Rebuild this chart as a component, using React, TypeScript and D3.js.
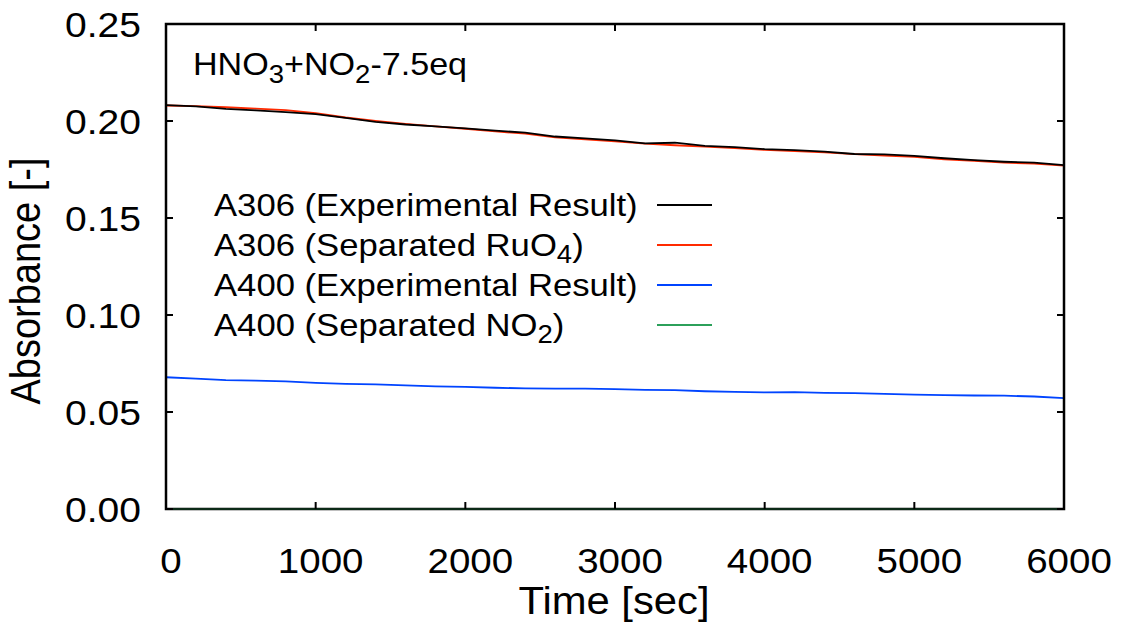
import React from 'react';
import * as d3 from 'd3';

const times = [0, 200, 400, 600, 800, 1000, 1200, 1400, 1600, 1800, 2000, 2200, 2400, 2600, 2800, 3000, 3200, 3400, 3600, 3800, 4000, 4200, 4400, 4600, 4800, 5000, 5200, 5400, 5600, 5800, 6000];

const a306Experimental = [0.2082, 0.2075, 0.2062, 0.2055, 0.2046, 0.2035, 0.2016, 0.1996, 0.1982, 0.1972, 0.1962, 0.1950, 0.1940, 0.1920, 0.1910, 0.1900, 0.1885, 0.1888, 0.1872, 0.1865, 0.1855, 0.1850, 0.1842, 0.1830, 0.1828, 0.1820, 0.1808, 0.1798, 0.1790, 0.1785, 0.1773];
const a306SeparatedRuO4 = [0.2080, 0.2077, 0.2071, 0.2064, 0.2056, 0.2040, 0.2018, 0.2000, 0.1985, 0.1972, 0.1960, 0.1946, 0.1935, 0.1916, 0.1905, 0.1895, 0.1883, 0.1875, 0.1868, 0.1860, 0.1851, 0.1845, 0.1838, 0.1829, 0.1822, 0.1815, 0.1802, 0.1795, 0.1785, 0.1780, 0.1770];
const a400Experimental = [0.0679, 0.0672, 0.0664, 0.0662, 0.0658, 0.0650, 0.0645, 0.0642, 0.0637, 0.0632, 0.0630, 0.0625, 0.0622, 0.0621, 0.0620, 0.0618, 0.0614, 0.0613, 0.0607, 0.0604, 0.0601, 0.0602, 0.0599, 0.0597, 0.0593, 0.0590, 0.0587, 0.0585, 0.0584, 0.0580, 0.0572];
const a400SeparatedNO2 = [0, 0, 0, 0, 0, 0, 0, 0, 0, 0, 0, 0, 0, 0, 0, 0, 0, 0, 0, 0, 0, 0, 0, 0, 0, 0, 0, 0, 0, 0, 0];

const xTicks = [0, 1000, 2000, 3000, 4000, 5000, 6000];
const yTicks = [0, 0.05, 0.1, 0.15, 0.2, 0.25];

const seriesNames = ['A306 (Experimental Result)', 'A306 (Separated RuO4)', 'A400 (Experimental Result)', 'A400 (Separated NO2)'];
const seriesColors = ['#000000', '#ff2a00', '#0044ff', '#2ca05a'];
const seriesValues = [a306Experimental, a306SeparatedRuO4, a400Experimental, a400SeparatedNO2];

const W = 1125, H = 633;
const L = 166, R = 1064, T = 24, B = 509;
const FONT = '"Liberation Sans", Arial, sans-serif';
const SX = 1.1;

function Label({ x, y, anchor = 'start', size, children }: any) {
  return (
    <text transform={`translate(${x},${y}) scale(${SX},1)`} textAnchor={anchor} fontSize={size} fontFamily={FONT} fill="#000">
      {children}
    </text>
  );
}

export default function App() {
  const x = d3.scaleLinear().domain([0, 6000]).range([L, R]);
  const y = d3.scaleLinear().domain([0, 0.25]).range([B, T]);
  const line = d3.line<number>().x((_, i) => x(times[i])).y((d) => y(d));
  const fmt = d3.format('.2f');
  const legendRows = [205, 245, 285, 325];

  const legendLabel = (i: number) => {
    if (i === 1) return (<>A306 (Separated RuO<tspan dy={7} fontSize={25}>4</tspan><tspan dy={-7}>)</tspan></>);
    if (i === 3) return (<>A400 (Separated NO<tspan dy={7} fontSize={25}>2</tspan><tspan dy={-7}>)</tspan></>);
    return seriesNames[i];
  };

  return (
    <svg width={W} height={H} style={{ position: 'absolute', left: 0, top: 0, background: '#fff' }}>
      <rect x={0} y={0} width={W} height={H} fill="#fff" />
      {seriesValues.map((vals, i) => (
        <path key={i} d={line(vals) || ''} fill="none" stroke={seriesColors[i]} strokeWidth={i === 3 ? 2 : 1.8} strokeLinejoin="round" opacity={i === 3 ? 0.9 : 1} />
      )).reverse()}
      <rect x={L} y={T} width={R - L} height={B - T} fill="none" stroke="#000" strokeWidth={2.5} />
      <line x1={L} x2={R} y1={B} y2={B} stroke="#2ca05a" strokeWidth={1.5} opacity={0.35} />
      {xTicks.map((t) => (
        <g key={'xt' + t}>
          <line x1={x(t)} x2={x(t)} y1={B} y2={B - 7} stroke="#000" strokeWidth={2} />
          <line x1={x(t)} x2={x(t)} y1={T} y2={T + 7} stroke="#000" strokeWidth={2} />
          <Label x={x(t) + 5} y={573} anchor="middle" size={35}>{String(t)}</Label>
        </g>
      ))}
      {yTicks.map((t) => (
        <g key={'yt' + t}>
          <line x1={L} x2={L + 7} y1={y(t)} y2={y(t)} stroke="#000" strokeWidth={2} />
          <line x1={R} x2={R - 7} y1={y(t)} y2={y(t)} stroke="#000" strokeWidth={2} />
          <Label x={141} y={y(t) + 12.5} anchor="end" size={35.5}>{fmt(t)}</Label>
        </g>
      ))}
      <Label x={614} y={614} anchor="middle" size={38}>Time [sec]</Label>
      <text transform={`translate(40,281) rotate(-90) scale(1,${SX})`} textAnchor="middle" fontSize={38} fontFamily={FONT} fill="#000">Absorbance [-]</text>
      <Label x={193} y={75} size={31}>
        HNO<tspan dy={8} fontSize={25}>3</tspan><tspan dy={-8}>+NO</tspan><tspan dy={8} fontSize={25}>2</tspan><tspan dy={-8}>-7.5eq</tspan>
      </Label>
      {seriesNames.map((n, i) => (
        <g key={'lg' + i}>
          <Label x={214} y={legendRows[i] + 11} size={31.5}>{legendLabel(i)}</Label>
          <line x1={657} x2={712} y1={legendRows[i]} y2={legendRows[i]} stroke={seriesColors[i]} strokeWidth={2} />
        </g>
      ))}
    </svg>
  );
}
